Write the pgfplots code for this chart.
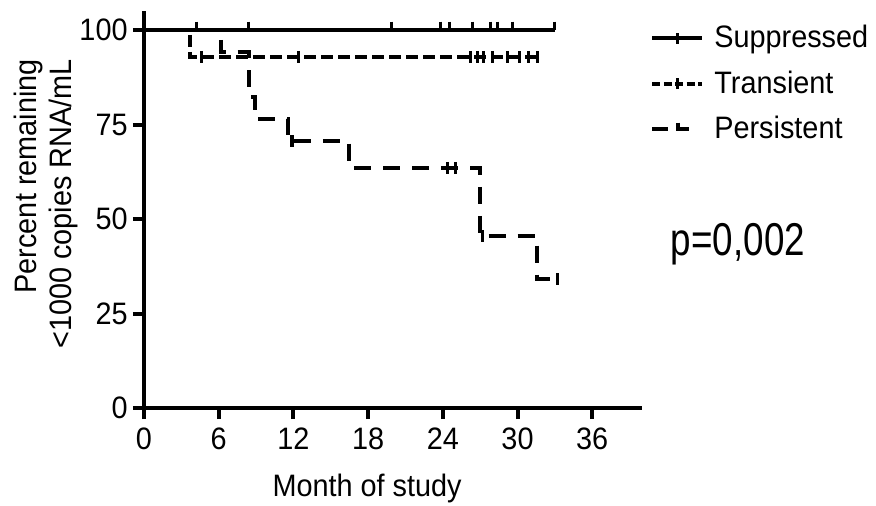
\documentclass[border=0pt]{standalone}
\usepackage{fontspec}
\setmainfont{Liberation Sans}[FakeStretch=0.93]
\newfontfamily\pfont{Liberation Sans}[FakeStretch=0.8]
\usepackage{pgfplots}
\pgfplotsset{compat=1.18}
\usepackage{pgfplotstable}

% step curves (month, percent)
\pgfplotstableread{
m v
0 100
33.0 100
}\suppline
\pgfplotstableread{
m v
4.2 100
8.4 100
19.9 100
23.8 100
24.5 100
26.4 100
27.8 100
28.4 100
29.6 100
33.0 100
}\suppcens
\pgfplotstableread{
m v
0 100
3.7 92.9
31.6 92.9
}\tranline
\pgfplotstableread{
m v
4.6 92.9
12.4 92.9
26.2 92.9
26.8 92.9
27.3 92.9
28.0 92.9
29.2 92.9
30.2 92.9
30.9 92.9
31.6 92.9
}\trancens
\pgfplotstableread{
m v
0 100
6.2 94.1
8.4 82.4
8.9 76.5
11.6 70.6
16.5 63.5
27.0 45.4
31.6 34.0
33.2 34.0
}\persline
\pgfplotstableread{
m v
11.9 70.6
24.4 63.5
25.0 63.5
27.2 45.4
33.2 34.0
}\perscens

\newcommand{\lbl}{\fontsize{15.5}{17.5}\selectfont}

\begin{document}
\begin{tikzpicture}
\path[use as bounding box] (-72pt,-48.5pt) rectangle (366pt,204pt);
\begin{axis}[
  at={(0pt,0pt)}, anchor=south west,
  scale only axis, width=249pt, height=198.45pt,
  xmin=0, xmax=40, ymin=0, ymax=105,
  axis x line=bottom, axis y line=left,
  axis line style={-, line width=2pt, black},
  xtick={0,6,...,36}, ytick={0,25,50,75,100},
  tick align=outside, major tick length=5.5pt,
  tick style={line width=2pt, black},
  /pgf/number format/assume math mode=true,
  tick label style={font=\lbl},
  yticklabel style={inner xsep=2.5pt},
  xticklabel style={inner ysep=4pt},
  xlabel={Month of study},
  xlabel style={font=\lbl, at={(axis description cs:0.448,-0.2217)}, anchor=base, inner sep=0pt},
  ylabel={Percent remaining\\<1000 copies RNA/mL},
  ylabel style={font=\lbl, align=right, at={(axis description cs:-0.1315,0.514)}, anchor=south, inner sep=0pt},
  legend style={at={(1.016,0.97)}, anchor=north west, draw=none, fill=none,
    font=\lbl, row sep=8pt, inner sep=0pt, nodes={inner sep=1pt}},
  legend cell align=left,
]
\addplot[const plot, line width=2pt, black,
  legend image code/.code={\draw[line width=2pt] (0pt,0pt) -- (25pt,0pt);
    \draw[line width=1.5pt] (12.5pt,-2.8pt) -- (12.5pt,2.8pt);\path (29pt,0pt);}]
  table[x=m,y=v]{\suppline};
\addlegendentry{Suppressed}
\addplot[const plot, line width=2pt, black, dash pattern=on 6pt off 2.5pt,
  legend image code/.code={\draw[line width=2pt, dash pattern=on 4pt off 1.7pt] (0pt,0pt) -- (25pt,0pt);
    \draw[line width=1.5pt] (12.5pt,-2.8pt) -- (12.5pt,2.8pt);\path (29pt,0pt);}]
  table[x=m,y=v]{\tranline};
\addlegendentry{Transient}
\addplot[const plot, line width=2pt, black, dash pattern=on 8.5pt off 6pt,
  legend image code/.code={\draw[line width=2pt] (0pt,0pt) -- (8pt,0pt);
    \draw[line width=2pt] (13pt,3.2pt) -- (13pt,0pt) -- (24pt,0pt);\path (29pt,0pt);}]
  table[x=m,y=v]{\persline};
\addlegendentry{Persistent}
\addplot[only marks, mark=|, mark size=2.2pt, black, forget plot,
  mark options={line width=1.5pt, yshift=2pt}] table[x=m,y=v]{\suppcens};
\addplot[only marks, mark=|, mark size=3pt, black, forget plot,
  mark options={line width=1.5pt}] table[x=m,y=v]{\trancens};
\addplot[only marks, mark=|, mark size=3pt, black, forget plot,
  mark options={line width=1.7pt}] table[x=m,y=v]{\perscens};
\end{axis}
\node[font=\pfont\fontsize{23}{26}\selectfont, anchor=center] at (297pt,82pt) {p=0,002};
\end{tikzpicture}
\end{document}
